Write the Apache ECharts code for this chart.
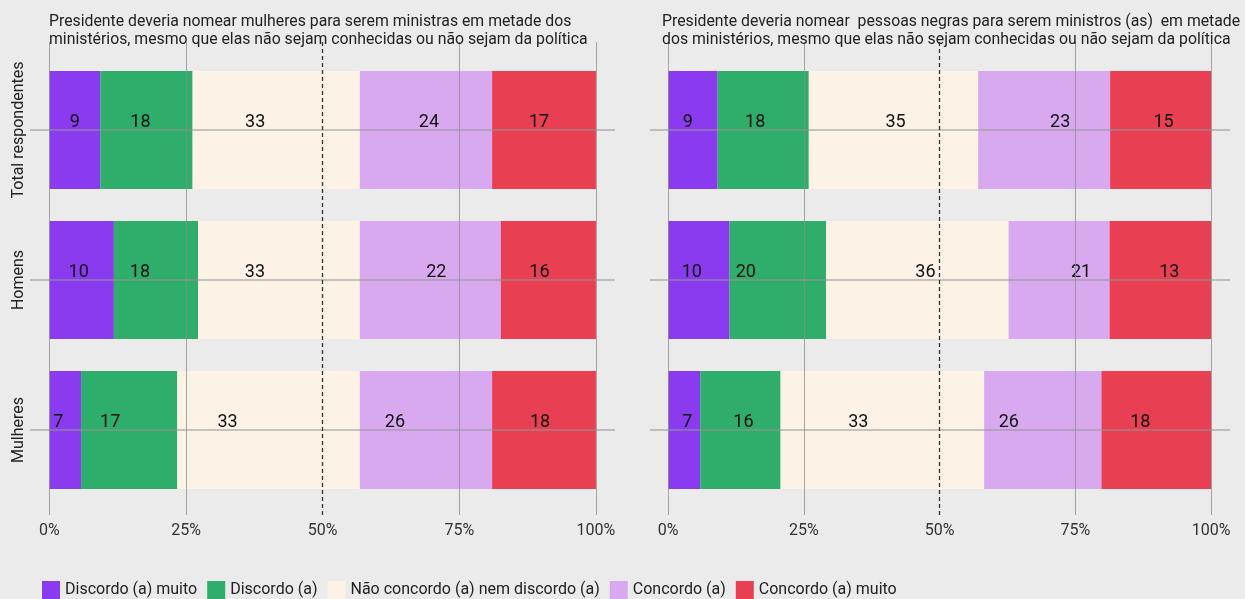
<!DOCTYPE html>
<html>
<head>
<meta charset="utf-8">
<script src="https://cdn.jsdelivr.net/npm/echarts@6/dist/echarts.min.js"></script>
<style>
  html, body { margin: 0; padding: 0; background: #ebebeb; }
  #chart { width: 1245px; height: 599px; }
</style>
</head>
<body>
<div id="chart"></div>
<script>
// categorias (eixo y)
var categories = ['Total respondentes', 'Homens', 'Mulheres']
// respostas (legenda)
var responses = ['Discordo (a) muito', 'Discordo (a)', 'Não concordo (a) nem discordo (a)', 'Concordo (a)', 'Concordo (a) muito']
var colors = ['#8b3bef', '#2fad6a', '#fcf2e6', '#d9a9ef', '#e83f53']

// painel esquerdo - mulheres ministras: tamanho das barras (%)
var leftDiscMuito = [9.3, 11.8, 5.8]
var leftDisc = [16.9, 15.4, 17.6]
var leftNeutro = [30.6, 29.6, 33.4]
var leftConc = [24.2, 25.8, 24.2]
var leftConcMuito = [19.0, 17.4, 19.0]
// rótulos exibidos
var leftLabels = [[9, 10, 7], [18, 18, 17], [33, 33, 33], [24, 22, 26], [17, 16, 18]]

// painel direito - pessoas negras ministros(as)
var rightDiscMuito = [9.1, 11.3, 5.9]
var rightDisc = [16.8, 17.8, 14.8]
var rightNeutro = [31.2, 33.6, 37.5]
var rightConc = [24.3, 18.6, 21.6]
var rightConcMuito = [18.6, 18.7, 20.2]
var rightLabels = [[9, 10, 7], [18, 20, 16], [35, 36, 33], [23, 21, 26], [15, 13, 18]]

// deslocamento horizontal dos rótulos (px), como no original
var leftNudge = [[0, -3, -7], [-6, -16, -19], [-21, -24, -41], [3, 6, -31], [-5, -9, -4]]
var rightNudge = [[-5, -7, 3], [-8, -32, 3], [2, 8, -24], [16, 22, -34], [3, 9, -16]]

var xTicks = [0, 25, 50, 75, 100]

var leftTitle = 'Presidente deveria nomear mulheres para serem ministras em metade dos\nministérios, mesmo que elas não sejam conhecidas ou não sejam da política'
var rightTitle = 'Presidente deveria nomear  pessoas negras para serem ministros (as)  em metade\ndos ministérios, mesmo que elas não sejam conhecidas ou não sejam da política'

var FONT = 'Roboto'
var chart = echarts.init(document.getElementById('chart'))

// paineis: grade das barras e grade das linhas
var panels = [
  { left: 30, width: 585, min: -3.55, max: 103.49, values: [leftDiscMuito, leftDisc, leftNeutro, leftConc, leftConcMuito], labels: leftLabels, nudge: leftNudge, showY: true },
  { left: 650, width: 580, min: -3.35, max: 103.48, values: [rightDiscMuito, rightDisc, rightNeutro, rightConc, rightConcMuito], labels: rightLabels, nudge: rightNudge, showY: false }
]

var grids = [], xAxes = [], yAxes = [], series = []
panels.forEach(function (p, pi) {
  var gBar = grids.length
  grids.push({ left: p.left, width: p.width, top: 55, height: 450 })
  grids.push({ left: p.left, width: p.width, top: 42, height: 473 })
  xAxes.push({ gridIndex: gBar, type: 'value', min: p.min, max: p.max, show: false })
  xAxes.push({
    gridIndex: gBar + 1, type: 'value', min: p.min, max: p.max,
    axisLine: { show: false }, axisTick: { show: false }, splitLine: { show: false },
    axisLabel: { customValues: xTicks, formatter: '{value}%', color: '#333', fontFamily: FONT, fontSize: 16, margin: 8 }
  })
  yAxes.push({
    gridIndex: gBar, type: 'category', data: categories, inverse: true,
    axisLine: { show: false }, axisTick: { show: false }, splitLine: { show: false },
    axisLabel: { show: p.showY, interval: 0, rotate: 90, color: '#222', fontFamily: FONT, fontSize: 16, margin: 3 }
  })
  yAxes.push({ gridIndex: gBar + 1, type: 'value', min: 0, max: 1, show: false })

  responses.forEach(function (name, si) {
    series.push({
      name: name, type: 'bar', stack: 'p' + pi,
      xAxisIndex: gBar, yAxisIndex: gBar,
      barWidth: 118,
      itemStyle: { color: colors[si] },
      label: {
        show: true, position: 'inside',
        color: '#111', fontFamily: FONT, fontSize: 18,
        formatter: function (d) { return p.labels[si][d.dataIndex] }
      },
      data: p.values[si].map(function (v, ci) {
        return { value: v, label: { offset: [p.nudge[si][ci], -8] } }
      })
    })
  })
  // linhas horizontais nas categorias
  series.push({
    type: 'line', xAxisIndex: gBar, yAxisIndex: gBar, data: [], z: 5, silent: true,
    markLine: {
      symbol: 'none', silent: true, label: { show: false },
      lineStyle: { color: 'rgba(150,150,150,0.7)', width: 1.5, type: 'solid' },
      data: categories.map(function (c) { return { yAxis: c } })
    }
  })
  // linhas verticais
  series.push({
    type: 'line', xAxisIndex: gBar + 1, yAxisIndex: gBar + 1, data: [], z: 5, silent: true,
    markLine: {
      symbol: 'none', silent: true, label: { show: false },
      lineStyle: { color: 'rgba(140,140,140,0.75)', width: 1, type: 'solid' },
      data: [0, 25, 75, 100].map(function (v) { return { xAxis: v } })
    }
  })
  series.push({
    type: 'line', xAxisIndex: gBar + 1, yAxisIndex: gBar + 1, data: [], z: 6, silent: true,
    markLine: {
      symbol: 'none', silent: true, label: { show: false },
      lineStyle: { color: '#333', width: 1.3, type: [4, 3] },
      data: [{ xAxis: 50 }]
    }
  })
})

var titleStyle = { color: '#222', fontFamily: FONT, fontSize: 15.8, fontWeight: 'normal', lineHeight: 18 }
chart.setOption({
  backgroundColor: '#ebebeb',
  animation: false,
  title: [
    { text: leftTitle, left: 49, top: 13, padding: 0, textStyle: titleStyle },
    { text: rightTitle, left: 662, top: 13, padding: 0, textStyle: titleStyle }
  ],
  legend: {
    data: responses, left: 42, top: 581, padding: 0,
    itemWidth: 18, itemHeight: 18, itemGap: 10, icon: 'rect',
    textStyle: { color: '#222', fontFamily: FONT, fontSize: 16 }
  },
  grid: grids,
  xAxis: xAxes,
  yAxis: yAxes,
  series: series
})
</script>
</body>
</html>
